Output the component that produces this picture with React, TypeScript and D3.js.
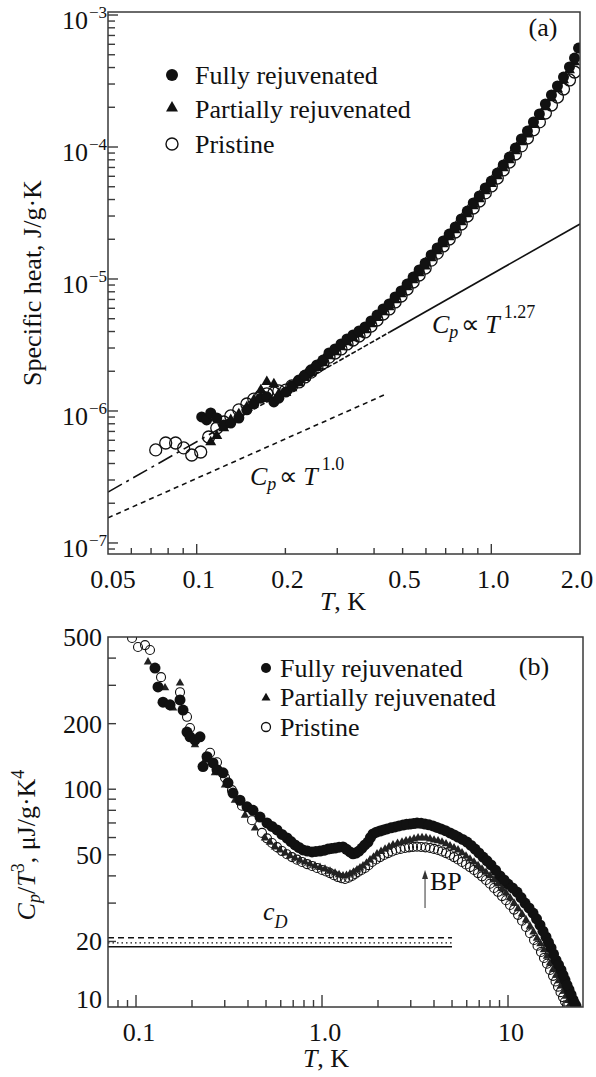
import * as d3 from 'd3';

// ---- panel (a): specific heat, J/g·K vs T, K ----
const fullyA: [number, number][] = [
  [0.104, 9.02e-7], [0.1081, 8.55e-7], [0.1116, 9.66e-7], [0.117, 8.85e-7], [0.1235, 7.83e-7],
  [0.1305, 8.11e-7], [0.139, 8.85e-7], [0.148, 1.02e-6], [0.1563, 1.13e-6], [0.1651, 1.25e-6],
  [0.173, 1.28e-6], [0.1828, 1.17e-6], [0.19, 1.25e-6], [0.2007, 1.39e-6], [0.2104, 1.55e-6],
  [0.2223, 1.72e-6], [0.233, 1.87e-6], [0.2442, 2.05e-6], [0.2559, 2.23e-6], [0.2683, 2.43e-6],
  [0.2812, 2.75e-6], [0.2947, 2.95e-6], [0.3089, 3.22e-6], [0.3237, 3.51e-6], [0.3393, 3.77e-6],
  [0.3556, 4.04e-6], [0.3727, 4.33e-6], [0.3906, 4.81e-6], [0.4094, 5.33e-6], [0.4292, 5.93e-6],
  [0.4498, 6.47e-6], [0.4715, 7.31e-6], [0.4941, 8.11e-6], [0.5179, 9.16e-6], [0.5428, 1.035e-5],
  [0.5689, 1.17e-5], [0.5963, 1.32e-5], [0.625, 1.52e-5], [0.6551, 1.72e-5], [0.6866, 1.94e-5],
  [0.7196, 2.19e-5], [0.7544, 2.48e-5], [0.7907, 2.85e-5], [0.8288, 3.27e-5], [0.8686, 3.77e-5],
  [0.9104, 4.26e-5], [0.9541, 4.89e-5], [1.0, 5.52e-5], [1.048, 6.35e-5], [1.098, 7.31e-5],
  [1.151, 8.39e-5], [1.207, 9.82e-5], [1.265, 1.15e-4], [1.326, 1.32e-4], [1.39, 1.55e-4],
  [1.456, 1.78e-4], [1.526, 2.12e-4], [1.6, 2.48e-4], [1.677, 2.9e-4], [1.758, 3.39e-4],
  [1.842, 4.04e-4], [1.916, 4.72e-4], [1.977, 5.62e-4],
];
const partialA: [number, number][] = [
  [0.1116, 5.82e-7], [0.117, 6.47e-7], [0.1235, 7.43e-7], [0.1305, 8.55e-7], [0.139, 9.49e-7],
  [0.148, 1.07e-6], [0.1563, 1.21e-6], [0.1651, 1.44e-6], [0.173, 1.66e-6], [0.1828, 1.6e-6],
  [0.19, 1.35e-6], [0.2007, 1.37e-6], [0.2104, 1.49e-6], [0.2223, 1.63e-6], [0.233, 1.78e-6],
  [0.2442, 1.94e-6], [0.2559, 2.12e-6], [0.2683, 2.31e-6], [0.2812, 2.61e-6], [0.2947, 2.8e-6],
  [0.3089, 3.05e-6], [0.3237, 3.33e-6], [0.3393, 3.57e-6], [0.3556, 3.83e-6], [0.3727, 4.11e-6],
  [0.3906, 4.56e-6], [0.4094, 5.07e-6], [0.4292, 5.62e-6], [0.4498, 6.14e-6], [0.4715, 6.93e-6],
  [0.4941, 7.69e-6], [0.5179, 8.69e-6], [0.5428, 9.82e-6], [0.5689, 1.11e-5], [0.5963, 1.25e-5],
  [0.625, 1.44e-5], [0.6551, 1.63e-5], [0.6866, 1.84e-5], [0.7196, 2.08e-5], [0.7544, 2.35e-5],
  [0.7907, 2.7e-5], [0.8288, 3.11e-5], [0.8686, 3.57e-5], [0.9104, 4.04e-5], [0.9541, 4.64e-5],
  [1.0, 5.25e-5], [1.048, 6.03e-5], [1.098, 6.93e-5], [1.151, 7.97e-5], [1.207, 9.33e-5],
  [1.265, 1.09e-4], [1.326, 1.25e-4], [1.39, 1.47e-4], [1.456, 1.69e-4], [1.526, 2.01e-4],
  [1.6, 2.35e-4], [1.677, 2.75e-4], [1.758, 3.22e-4], [1.842, 3.83e-4], [1.916, 4.4e-4],
];
const pristineA: [number, number][] = [
  [0.0726, 5.07e-7], [0.0785, 5.72e-7], [0.0848, 5.72e-7], [0.0903, 5.25e-7], [0.0962, 4.64e-7],
  [0.1032, 4.89e-7], [0.1098, 6.35e-7], [0.117, 7.43e-7], [0.1235, 8.25e-7], [0.1305, 9.17e-7],
  [0.139, 1.02e-6], [0.148, 1.13e-6], [0.1563, 1.23e-6], [0.1651, 1.3e-6], [0.173, 1.35e-6],
  [0.1828, 1.37e-6], [0.19, 1.42e-6], [0.2007, 1.44e-6], [0.2104, 1.55e-6], [0.2223, 1.66e-6],
  [0.233, 1.81e-6], [0.2442, 1.97e-6], [0.2559, 2.15e-6], [0.2683, 2.31e-6], [0.2812, 2.56e-6],
  [0.2947, 2.75e-6], [0.3089, 2.95e-6], [0.3237, 3.22e-6], [0.3393, 3.45e-6], [0.3556, 3.7e-6],
  [0.3727, 3.97e-6], [0.3906, 4.4e-6], [0.4094, 4.89e-6], [0.4292, 5.43e-6], [0.4498, 5.93e-6],
  [0.4715, 6.7e-6], [0.4941, 7.43e-6], [0.5179, 8.4e-6], [0.5428, 9.49e-6], [0.5689, 1.072e-5],
  [0.5963, 1.21e-5], [0.625, 1.39e-5], [0.6551, 1.57e-5], [0.6866, 1.78e-5], [0.7196, 2.01e-5],
  [0.7544, 2.27e-5], [0.7907, 2.61e-5], [0.8288, 3.0e-5], [0.8686, 3.45e-5], [0.9104, 3.9e-5],
  [0.9541, 4.49e-5], [1.0, 5.07e-5], [1.048, 5.82e-5], [1.098, 6.7e-5], [1.151, 7.69e-5],
  [1.207, 8.85e-5], [1.265, 1.02e-4], [1.326, 1.17e-4], [1.39, 1.35e-4], [1.456, 1.55e-4],
  [1.526, 1.81e-4], [1.6, 2.08e-4], [1.677, 2.39e-4], [1.758, 2.75e-4], [1.842, 3.22e-4],
  [1.916, 3.7e-4],
];
// power-law guide lines (end points)
const fit127: [number, number][] = [[0.05, 2.43e-7], [2.0, 2.61e-5]];
const fit10: [number, number][] = [[0.05, 1.55e-7], [0.44, 1.345e-6]];

const xTicksA = [0.05, 0.1, 0.2, 0.5, 1.0, 2.0];
const xTickTextA = ['0.05', '0.1', '0.2', '0.5', '1.0', '2.0'];
const yExpA = [-7, -6, -5, -4, -3];

// ---- panel (b): Cp/T^3, µJ/g·K^4 vs T, K ----
const fullyB: [number, number][] = [
  [0.1265, 360], [0.1313, 295], [0.1397, 251], [0.1524, 244], [0.1724, 257], [0.179, 231],
  [0.188, 183], [0.1951, 174], [0.2075, 168], [0.2208, 174], [0.2292, 127], [0.2408, 141],
  [0.2594, 132], [0.2725, 123], [0.2936, 119], [0.3123, 107], [0.3322, 96], [0.3622, 89],
  [0.3952, 83], [0.4256, 80], [0.4642, 74.5], [0.5061, 70], [0.5728, 65], [0.6484, 59.7],
  [0.7157, 55.5], [0.7902, 52.6], [0.8835, 51.5], [0.9755, 52.0], [1.077, 53.1], [1.175, 53.7],
  [1.297, 54.3], [1.414, 51.5], [1.523, 50.9], [1.641, 53.7], [1.767, 57.2], [1.88, 62.3],
  [2.05, 64.3], [2.236, 65.7], [2.469, 67.1], [2.726, 68.5], [2.973, 69.2], [3.243, 69.9],
  [3.579, 69.2], [3.953, 67.8], [4.364, 65.7], [4.878, 63.0], [5.385, 60.3], [6.02, 57.2],
  [6.646, 53.1], [7.338, 48.8], [8.102, 44.9], [9.057, 40.0], [10.0, 36.7], [11.18, 33.7],
  [12.34, 30.0], [13.63, 27.0], [14.86, 23.8], [16.0, 20.96], [17.03, 18.7], [18.12, 16.4],
  [19.27, 14.8], [20.25, 13.3], [21.28, 12.0], [22.36, 10.8], [23.21, 10.1],
  // denser readings along the band above 0.5 K
  [0.538, 67.5], [0.609, 62], [0.681, 57.5], [0.752, 54], [0.835, 52], [0.927, 51.8],
  [1.025, 52.4], [1.125, 53.5], [1.235, 54.2], [1.355, 53], [1.468, 50.5], [1.58, 52],
  [1.7, 55.5], [1.82, 60], [1.96, 63.5], [2.14, 65], [2.35, 66.5], [2.59, 67.8], [2.85, 69],
  [3.11, 69.6], [3.41, 69.7], [3.76, 68.6], [4.15, 66.8], [4.61, 64.5], [5.13, 61.7],
  [5.7, 58.8], [6.33, 55.2], [6.97, 51], [7.71, 46.9], [8.58, 42.4], [9.52, 38.3],
  [10.57, 35.2], [11.75, 31.8], [12.97, 28.5], [14.23, 25.4], [15.42, 22.3], [16.5, 19.8],
  [17.57, 17.5], [18.69, 15.6], [19.76, 14.0], [20.76, 12.6], [21.82, 11.4], [22.8, 10.4],
];
const partialB: [number, number][] = [
  [0.116, 384], [0.1432, 292], [0.1581, 236], [0.1724, 307], [0.2075, 160], [0.235, 136],
  [0.2659, 119], [0.301, 104.5], [0.3405, 89], [0.3855, 76], [0.4363, 66.3], [0.4937, 59.7],
  [0.5589, 54.3], [0.6326, 50.9], [0.7157, 48.3], [0.8103, 46.3], [0.917, 44.4], [1.038, 43.0],
  [1.175, 41.2], [1.297, 40.0], [1.414, 40.8], [1.542, 42.6], [1.661, 44.4], [1.812, 47.3],
  [1.976, 50.4], [2.182, 53.1], [2.408, 55.5], [2.692, 57.2], [2.973, 58.4], [3.283, 59.7],
  [3.624, 59.7], [4.002, 58.4], [4.418, 57.2], [4.878, 54.9], [5.385, 52.6], [5.945, 49.3],
  [6.564, 46.3], [7.248, 43.0], [8.003, 40.0], [8.837, 36.7], [9.755, 33.4], [10.77, 30.0],
  [11.89, 26.7], [13.13, 23.5], [14.32, 20.7], [15.61, 18.3], [16.82, 15.9], [18.12, 14.0],
  [19.27, 12.5], [20.5, 11.2], [21.54, 10.3],
  [0.525, 57], [0.594, 52.5], [0.673, 49.5], [0.761, 47.2], [0.862, 45.3], [0.976, 43.7],
  [1.104, 42], [1.235, 40.5], [1.354, 40.2], [1.477, 41.6], [1.6, 43.5], [1.735, 45.8],
  [1.892, 48.8], [2.077, 51.8], [2.292, 54.4], [2.548, 56.4], [2.829, 57.9], [3.124, 59.1],
  [3.45, 59.9], [3.808, 59.1], [4.205, 57.9], [4.642, 56.1], [5.126, 53.8], [5.658, 51],
  [6.247, 47.8], [6.9, 44.6], [7.616, 41.5], [8.41, 38.3], [9.285, 35], [10.25, 31.7],
  [11.32, 28.3], [12.5, 25.1], [13.71, 22.1], [14.95, 19.5], [16.2, 17.1], [17.46, 14.9],
  [18.69, 13.2], [19.88, 11.8], [21.01, 10.7],
];
const pristineB: [number, number][] = [
  [0.0952, 495], [0.1025, 450], [0.1118, 459], [0.1189, 436], [0.1363, 327], [0.1724, 279],
  [0.188, 215], [0.1951, 191], [0.25, 147], [0.2725, 133], [0.301, 113], [0.3281, 99],
  [0.3713, 84], [0.4204, 72], [0.4757, 63], [0.5384, 56.6], [0.6095, 52.0], [0.6898, 48.8],
  [0.7807, 46.3], [0.8835, 44.4], [1.0, 42.6], [1.104, 41.2], [1.219, 39.5], [1.329, 38.7],
  [1.45, 40.0], [1.561, 41.7], [1.703, 43.5], [1.857, 46.3], [2.05, 48.8], [2.264, 50.9],
  [2.499, 52.6], [2.795, 53.7], [3.085, 54.3], [3.406, 54.3], [3.807, 53.7], [4.205, 52.6],
  [4.642, 50.9], [5.126, 48.8], [5.658, 46.3], [6.248, 43.9], [6.898, 41.2], [7.616, 38.3],
  [8.41, 35.2], [9.284, 32.3], [10.25, 29.4], [11.32, 26.5], [12.5, 23.3], [13.8, 20.3],
  [15.04, 17.9], [16.2, 15.8], [17.46, 13.9], [18.57, 12.4], [19.76, 11.1], [20.76, 10.2],
  [0.506, 59.5], [0.573, 54.2], [0.648, 50.3], [0.734, 47.5], [0.831, 45.3], [0.94, 43.5],
  [1.051, 41.9], [1.16, 40.3], [1.273, 39], [1.388, 39.2], [1.504, 40.8], [1.63, 42.6],
  [1.778, 44.8], [1.951, 47.6], [2.154, 49.9], [2.38, 51.8], [2.643, 53.2], [2.936, 54.1],
  [3.241, 54.4], [3.6, 54.1], [4.0, 53.2], [4.418, 51.8], [4.878, 49.9], [5.385, 47.6],
  [5.946, 45.1], [6.565, 42.6], [7.248, 39.8], [8.003, 36.8], [8.836, 33.8], [9.755, 30.9],
  [10.77, 28], [11.9, 24.9], [13.13, 21.8], [14.41, 19.1], [15.61, 16.8], [16.82, 14.8],
  [18.01, 13.1], [19.15, 11.7], [20.25, 10.6],
];
// Debye levels c_D (dashed, dotted, solid) up to T = 5 K
const cDLevels = [20.8, 19.7, 18.9];
const cDDash = ['6 4', '1.5 3', ''];
const cDEndT = 5.0;
// boson peak arrow: T and the two ends of the arrow in Cp/T^3
const bpT = 3.58;
const bpArrow = [28.5, 42.6];

const xTicksB = [0.1, 1, 10];
const xTickTextB = ['0.1', '1.0', '10'];
const yTicksB = [10, 20, 50, 100, 200, 500];

const FONT = '"Liberation Serif", "Times New Roman", Times, serif';
const INK = '#111';
const AXIS = '#3a3a3a';

const isDecade = (v: number) => Math.abs(Math.log10(v) - Math.round(Math.log10(v))) < 1e-6;
const tri = (side: number) => d3.symbol().type(d3.symbolTriangle).size((side * side * Math.sqrt(3)) / 4)() as string;

export default function App() {
  const W = 596;
  const H = 1077;

  // panel (a)
  const xA = d3.scaleLog().domain([0.05, 2.0]).range([108, 580]);
  const yA = d3.scaleLog().domain([8.25e-8, 1.054e-3]).range([554, 12]);
  // panel (b)
  const xB = d3.scaleLog().domain([0.0707, 25.3]).range([108, 583]);
  const yB = d3.scaleLog().domain([10, 500]).range([1007, 637]);

  const lineA = d3.line<[number, number]>().x((d) => xA(d[0])).y((d) => yA(d[1]));
  const triA = tri(11);
  const triB = tri(8.5);

  const [ax0, ax1] = xA.range();
  const [ay0, ay1] = yA.range();
  const [bx0, bx1] = xB.range();
  const [by0, by1] = yB.range();

  const xTickA = xA.ticks().filter((v) => xA(v) > ax0 + 1 && xA(v) < ax1 - 1);
  const yTickA = yA.ticks().filter((v) => yA(v) < ay0 - 1 && yA(v) > ay1 + 1);
  const xTickB = xB.ticks().filter((v) => xB(v) > bx0 + 1 && xB(v) < bx1 - 1);
  const yTickB = yB.ticks().filter((v) => yB(v) < by0 - 1 && yB(v) > by1 + 1);

  const split1 = xA(0.13);
  const split2 = xA(0.45);

  return (
    <div style={{ position: 'absolute', left: 0, top: 0 }}>
      <svg width={W} height={H} viewBox={`0 0 ${W} ${H}`} style={{ display: 'block', background: '#fff' }} fontFamily={FONT}>
        <defs>
          <clipPath id="clipA">
            <rect x={ax0} y={ay1} width={ax1 - ax0} height={ay0 - ay1} />
          </clipPath>
          <clipPath id="fitLow">
            <rect x={ax0} y={ay1} width={split1 - ax0} height={ay0 - ay1} />
          </clipPath>
          <clipPath id="fitMid">
            <rect x={split1} y={ay1} width={split2 - split1} height={ay0 - ay1} />
          </clipPath>
          <clipPath id="fitHigh">
            <rect x={split2} y={ay1} width={ax1 - split2} height={ay0 - ay1} />
          </clipPath>
          <clipPath id="clipB">
            <rect x={bx0} y={by1} width={bx1 - bx0} height={by0 - by1} />
          </clipPath>
        </defs>

        {/* ================= panel (a) ================= */}
        <g clipPath="url(#clipA)">
          <path d={lineA(fit127) ?? ''} clipPath="url(#fitLow)" fill="none" stroke={INK} strokeWidth={1.6} strokeDasharray="16 5 3 5" />
          <path d={lineA(fit127) ?? ''} clipPath="url(#fitMid)" fill="none" stroke={INK} strokeWidth={1.6} strokeDasharray="5 2" />
          <path d={lineA(fit127) ?? ''} clipPath="url(#fitHigh)" fill="none" stroke={INK} strokeWidth={1.6} />
          <path d={lineA(fit10) ?? ''} fill="none" stroke={INK} strokeWidth={1.6} strokeDasharray="5 4" />

          {pristineA.map((d, i) => (
            <circle key={`pa${i}`} cx={xA(d[0])} cy={yA(d[1])} r={6} fill="none" stroke={INK} strokeWidth={1.3} />
          ))}
          {partialA.map((d, i) => (
            <path key={`ta${i}`} d={triA} transform={`translate(${xA(d[0])},${yA(d[1])})`} fill={INK} />
          ))}
          {fullyA.map((d, i) => (
            <circle key={`fa${i}`} cx={xA(d[0])} cy={yA(d[1])} r={5.5} fill={INK} />
          ))}
        </g>

        <rect x={ax0} y={ay1} width={ax1 - ax0} height={ay0 - ay1} fill="none" stroke={AXIS} strokeWidth={1.5} />
        {xTickA.map((v) => (
          <line key={`xa${v}`} x1={xA(v)} x2={xA(v)} y1={ay0} y2={ay0 - (isDecade(v) ? 10 : 6)} stroke={AXIS} strokeWidth={1.4} />
        ))}
        {yTickA.map((v) => (
          <line key={`ya${v}`} x1={ax0} x2={ax0 + (isDecade(v) ? 10 : 7)} y1={yA(v)} y2={yA(v)} stroke={AXIS} strokeWidth={1.4} />
        ))}
        {xTicksA.map((v, i) => (
          <text
            key={`xla${v}`}
            x={xA(v) + (i === 0 ? 5 : i === xTicksA.length - 1 ? -3 : 2)}
            y={ay0 + 34}
            fontSize={26}
            textAnchor="middle"
            fill={INK}
          >
            {xTickTextA[i]}
          </text>
        ))}
        {yExpA.map((e) => (
          <g key={`yla${e}`}>
            <text x={88} y={yA(Math.pow(10, e)) + 14} fontSize={26} textAnchor="end" fill={INK}>10</text>
            <text x={89} y={yA(Math.pow(10, e)) + 3} fontSize={17} fill={INK}>{`\u2212${-e}`}</text>
          </g>
        ))}
        <text transform={`translate(41,${(ay0 + ay1) / 2}) rotate(-90)`} fontSize={26} textAnchor="middle" fill={INK}>
          Specific heat, J/g·K
        </text>
        <text x={343} y={610} fontSize={26} textAnchor="middle" fill={INK}>
          <tspan fontStyle="italic">T</tspan>, K
        </text>
        <text x={543} y={36} fontSize={26} textAnchor="middle" fill={INK}>(a)</text>

        {/* legend (a) */}
        <circle cx={172} cy={75} r={6} fill={INK} />
        <path d={tri(12)} transform="translate(172,108)" fill={INK} />
        <circle cx={172} cy={144} r={6} fill="none" stroke={INK} strokeWidth={1.4} />
        <text x={195} y={84} fontSize={26} fill={INK}>Fully rejuvenated</text>
        <text x={195} y={118} fontSize={26} fill={INK}>Partially rejuvenated</text>
        <text x={195} y={153} fontSize={26} fill={INK}>Pristine</text>

        {/* annotations (a) */}
        <text x={432} y={333} fontSize={26} fill={INK}>
          <tspan fontStyle="italic">C</tspan>
          <tspan fontStyle="italic" fontSize={18} dy={5}>p</tspan>
          <tspan dy={-5} dx={3}>∝</tspan>
          <tspan fontStyle="italic" dx={5}>T</tspan>
          <tspan fontSize={18} dy={-15} dx={4}>1.27</tspan>
        </text>
        <text x={250} y={485} fontSize={26} fill={INK}>
          <tspan fontStyle="italic">C</tspan>
          <tspan fontStyle="italic" fontSize={18} dy={5}>p</tspan>
          <tspan dy={-5} dx={3}>∝</tspan>
          <tspan fontStyle="italic" dx={5}>T</tspan>
          <tspan fontSize={18} dy={-15} dx={4}>1.0</tspan>
        </text>

        {/* ================= panel (b) ================= */}
        <g clipPath="url(#clipB)">
          {cDLevels.map((v, i) => (
            <line key={`cd${i}`} x1={bx0} x2={xB(cDEndT)} y1={yB(v)} y2={yB(v)} stroke={INK} strokeWidth={1.4} strokeDasharray={cDDash[i] || undefined} />
          ))}
          {pristineB.map((d, i) => (
            <circle key={`pb${i}`} cx={xB(d[0])} cy={yB(d[1])} r={4.5} fill="none" stroke={INK} strokeWidth={1.1} />
          ))}
          {partialB.map((d, i) => (
            <path key={`tb${i}`} d={triB} transform={`translate(${xB(d[0])},${yB(d[1])})`} fill="#222" />
          ))}
          {fullyB.map((d, i) => (
            <circle key={`fb${i}`} cx={xB(d[0])} cy={yB(d[1])} r={5.5} fill={INK} />
          ))}
        </g>

        <rect x={bx0} y={by1} width={bx1 - bx0} height={by0 - by1} fill="none" stroke={AXIS} strokeWidth={1.5} />
        {xTickB.map((v) => (
          <line key={`xb${v}`} x1={xB(v)} x2={xB(v)} y1={by0} y2={by0 - (isDecade(v) ? 12 : 7)} stroke={AXIS} strokeWidth={1.4} />
        ))}
        {yTickB.map((v) => (
          <line key={`yb${v}`} x1={bx0} x2={bx0 + 8} y1={yB(v)} y2={yB(v)} stroke={AXIS} strokeWidth={1.4} />
        ))}
        {xTicksB.map((v, i) => (
          <text key={`xlb${v}`} x={xB(v) + 3} y={by0 + 34} fontSize={26} textAnchor="middle" fill={INK}>
            {xTickTextB[i]}
          </text>
        ))}
        {yTicksB.map((v) => (
          <text key={`ylb${v}`} x={102} y={v === 10 ? by0 + 1 : yB(v) + 9} fontSize={26} textAnchor="end" fill={INK}>
            {v}
          </text>
        ))}
        <text transform="translate(35,845) rotate(-90)" fontSize={26} textAnchor="middle" fill={INK}>
          <tspan fontStyle="italic">C</tspan>
          <tspan fontStyle="italic" fontSize={18} dy={5}>p</tspan>
          <tspan dy={-5}>/</tspan>
          <tspan fontStyle="italic">T</tspan>
          <tspan fontSize={18} dy={-11}>3</tspan>
          <tspan dy={11}>, μJ/g·K</tspan>
          <tspan fontSize={18} dy={-11}>4</tspan>
        </text>
        <text x={326} y={1067} fontSize={26} textAnchor="middle" fill={INK}>
          <tspan fontStyle="italic">T</tspan>, K
        </text>
        <text x={534} y={675} fontSize={26} textAnchor="middle" fill={INK}>(b)</text>

        {/* legend (b) */}
        <circle cx={266} cy={668} r={5} fill={INK} />
        <path d={tri(9)} transform="translate(266,698)" fill={INK} />
        <circle cx={266} cy={727} r={4.5} fill="none" stroke={INK} strokeWidth={1.3} />
        <text x={280} y={677} fontSize={26} fill={INK}>Fully rejuvenated</text>
        <text x={280} y={706} fontSize={26} fill={INK}>Partially rejuvenated</text>
        <text x={280} y={736} fontSize={26} fill={INK}>Pristine</text>

        {/* c_D label and BP arrow */}
        <text x={263} y={920} fontSize={26} fill={INK}>
          <tspan fontStyle="italic">c</tspan>
          <tspan fontStyle="italic" fontSize={18} dy={8}>D</tspan>
        </text>
        <line x1={xB(bpT)} x2={xB(bpT)} y1={yB(bpArrow[0])} y2={yB(bpArrow[1]) + 7} stroke="#555" strokeWidth={1.2} />
        <path d={`M${xB(bpT)},${yB(bpArrow[1])} l-3,9 l6,0 z`} fill="#333" />
        <text x={430} y={890} fontSize={26} fill={INK}>BP</text>
      </svg>
    </div>
  );
}
